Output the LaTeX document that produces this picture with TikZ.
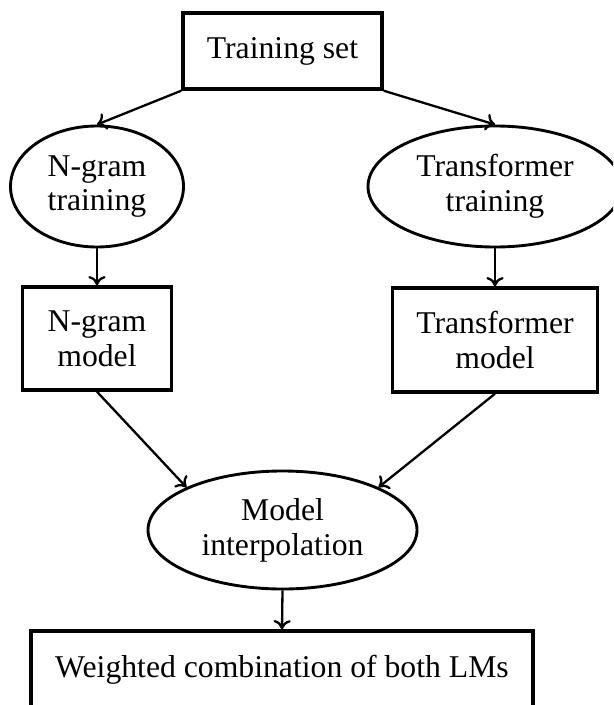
\documentclass[tikz,border=0pt]{standalone}
\usepackage{fontspec}
\setmainfont{Liberation Serif}
\usetikzlibrary{shapes.geometric,arrows.meta}

% one drawing unit of the layout grid
\newlength\pxunit
\setlength\pxunit{0.347pt}

\tikzset{
  grid/.style={x=\pxunit, y=-\pxunit},
  label font/.style={font=\fontsize{11}{12.1}\selectfont},
  box/.style={draw, rectangle, line width=1.2pt, inner sep=0pt, align=center,
              label font},
  oval/.style={draw, ellipse, line width=1pt, inner sep=0pt, align=center,
               label font},
  link/.style={line width=0.8pt, -{To[length=3.2pt,width=6pt]}},
}

\begin{document}
\begin{tikzpicture}[grid]
  \useasboundingbox (0,0) rectangle (613,705);
  \clip (0,0) rectangle (613,705);

  % data and training stages
  \node[box, minimum width=199*\pxunit, minimum height=76*\pxunit]
    (train) at (282.5,51) {Training set};
  \node[oval, minimum width=173*\pxunit, minimum height=121*\pxunit]
    (ngt) at (97,186.5) {N-gram\\training};
  \node[oval, minimum width=254*\pxunit, minimum height=121*\pxunit]
    (trt) at (495,186.5) {Transformer\\training};

  % trained models
  \node[box, minimum width=149*\pxunit, minimum height=103*\pxunit]
    (ngm) at (97,338.5) {N-gram\\model};
  \node[box, minimum width=205*\pxunit, minimum height=104*\pxunit]
    (tm) at (495,340) {Transformer\\model};

  % combination
  \node[oval, minimum width=269*\pxunit, minimum height=118*\pxunit]
    (interp) at (282.5,530) {Model\\interpolation};
  \node[box, minimum width=502*\pxunit, minimum height=78*\pxunit]
    (final) at (282,670) {Weighted combination of both LMs};

  % flow
  \draw[link] (train.south west) -- (ngt.north);
  \draw[link] (train.south east) -- (trt.north);
  \draw[link] (ngt.south) -- (ngm.north);
  \draw[link] (trt.south) -- (tm.north);
  \draw[link] (ngm.south) -- (interp.north west);
  \draw[link] (tm.south) -- (interp.north east);
  \draw[link] (interp.south) -- (final.north);
\end{tikzpicture}
\end{document}
